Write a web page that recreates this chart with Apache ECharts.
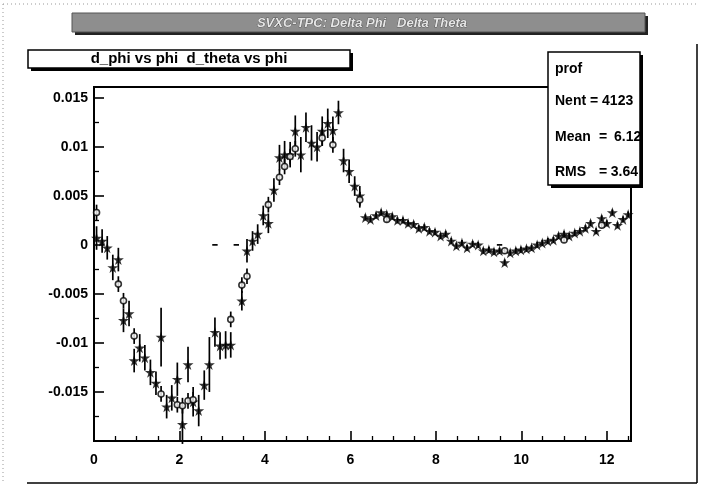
<!DOCTYPE html>
<html><head><meta charset="utf-8">
<script src="https://cdn.jsdelivr.net/npm/echarts@6/dist/echarts.min.js"></script>
<style>html,body{margin:0;padding:0;background:#fff}#c{width:701px;height:490px}</style>
</head><body><div id="c"></div>
<script>
// bin centres (phi), 100 bins over 0..4pi
const phiBins = [0.06,0.19,0.31,0.44,0.57,0.69,0.82,0.94,1.07,1.19,1.32,1.45,1.57,1.70,1.82,1.95,2.07,2.20,2.32,2.45,
 2.58,2.70,2.83,2.95,3.08,3.20,3.33,3.46,3.58,3.71,3.83,3.96,4.08,4.21,4.34,4.46,4.59,4.71,4.84,4.96,
 5.09,5.22,5.34,5.47,5.59,5.72,5.84,5.97,6.10,6.22,6.35,6.47,6.60,6.72,6.85,6.98,7.10,7.23,7.35,7.48,
 7.60,7.73,7.85,7.98,8.11,8.23,8.36,8.48,8.61,8.73,8.86,8.99,9.11,9.24,9.36,9.49,9.61,9.74,9.87,9.99,
 10.12,10.24,10.37,10.49,10.62,10.75,10.87,11.00,11.12,11.25,11.37,11.50,11.62,11.75,11.88,12.00,12.13,12.25,12.38,12.50];

// d_phi vs phi (filled stars)
const dPhi = [0.0007,0.0004,-0.0003,-0.0023,-0.0015,-0.0077,-0.0070,-0.0118,-0.0105,-0.0115,
 -0.0130,-0.0141,-0.0094,-0.0165,-0.0156,-0.0137,-0.0183,-0.0122,-0.0160,-0.0169,
 -0.0143,-0.0122,-0.0089,-0.0103,-0.0102,-0.0102,null,-0.0057,-0.0006,0.0004,
 0.0011,0.0030,0.0022,0.0056,0.0089,0.0092,0.0092,0.0116,0.0092,0.0120,
 0.0104,0.0100,0.0116,0.0124,0.0117,0.0135,0.0086,0.0075,0.0060,0.0050,
 0.0028,0.0026,0.0030,0.0033,0.0031,0.0029,0.0025,0.0025,0.0022,0.0021,
 0.0017,0.0018,0.0014,0.0013,0.0009,0.0011,0.0004,-0.0001,0.0002,-0.0003,
 0.0001,0.0000,-0.0006,-0.0005,-0.0007,-0.0006,-0.0018,-0.0008,-0.0006,-0.0005,
 -0.0004,-0.0003,0.0000,0.0002,0.0004,0.0005,0.0009,0.0011,0.0009,0.0012,
 0.0014,0.0017,0.0022,0.0014,0.0027,0.0022,0.0033,0.0020,0.0026,0.0031];
const dPhiErr = [0.0012,0.0012,0.0012,0.0013,0.0012,0.0012,0.0013,0.0012,0.0014,0.0013,
 0.0013,0.0012,0.0030,0.0012,0.0013,0.0017,0.0020,0.0018,0.0015,0.0016,
 0.0015,0.0028,0.0015,0.0014,0.0014,0.0013,0,0.0010,0.0012,0.0010,
 0.0010,0.0010,0.0010,0.0012,0.0013,0.0014,0.0013,0.0016,0.0018,0.0015,
 0.0018,0.0015,0.0015,0.0015,0.0014,0.0012,0.0012,0.0012,0.0010,0.0010,
 0.0003,0.0003,0.0003,0.0003,0.0003,0.0003,0.0003,0.0003,0.0003,0.0003,
 0.0003,0.0003,0.0003,0.0003,0.0003,0.0003,0.0003,0.0003,0.0003,0.0003,
 0.0003,0.0003,0.0003,0.0003,0.0003,0.0003,0.0003,0.0003,0.0003,0.0003,
 0.0003,0.0003,0.0003,0.0003,0.0003,0.0003,0.0003,0.0003,0.0003,0.0003,
 0.0003,0.0003,0.0003,0.0003,0.0003,0.0003,0.0003,0.0003,0.0003,0.0003];

// d_theta vs phi (open circles) - only the bins visible in the picture
const dThetaBins = [0.06,0.57,0.69,0.94,1.57,1.95,2.07,2.20,2.32,3.20,3.46,3.58,4.08,4.34,4.46,4.59,4.71,5.34,5.59,6.22,6.85,9.61,11.00,11.88];
const dTheta = [0.0033,-0.0040,-0.0057,-0.0093,-0.0152,-0.0163,-0.0164,-0.0159,-0.0158,-0.0076,-0.0041,-0.0032,0.0041,0.0069,0.0080,0.0090,0.0098,0.0109,0.0102,0.0046,0.0026,-0.0006,0.0005,0.0020];
const dThetaErr = [0.0008,0.0008,0.0008,0.0008,0.0008,0.0008,0.0008,0.0008,0.0008,0.0008,0.0008,0.0008,0.0008,0.0008,0.0008,0.0008,0.0008,0.0008,0.0008,0.0008,0.0003,0.0003,0.0003,0.0003];

// empty bins drawn as a flat bar at zero
const emptyBins = [2.83, 3.33, 9.49];
const halfBin = 0.063;

// axis ticks
const xTickLabels = [0, 2, 4, 6, 8, 10, 12];
const yTickLabels = [-0.015, -0.01, -0.005, 0, 0.005, 0.01, 0.015];

const phiPts = phiBins.map((x, i) => [x, dPhi[i], dPhiErr[i]]).filter(p => p[1] !== null);
const thetaPts = dThetaBins.map((x, i) => [x, dTheta[i], dThetaErr[i]]);
const emptyPts = emptyBins.map(x => [x, 0]);

const STAR = 'path://M50,0 L61,35 L98,35 L68,57 L79,91 L50,70 L21,91 L32,57 L2,35 L39,35 Z';
const FONT = '"Liberation Sans", Arial, Helvetica, sans-serif';

function errRender(params, api) {
  const x = api.value(0), y = api.value(1), e = api.value(2);
  const p1 = api.coord([x, y - e]), p2 = api.coord([x, y + e]);
  return { type: 'line', shape: { x1: p1[0], y1: p1[1], x2: p2[0], y2: p2[1] },
    style: { stroke: '#000', lineWidth: 1.7 } };
}
function emptyRender(params, api) {
  const x = api.value(0), y = api.value(1);
  const p1 = api.coord([x - halfBin, y]), p2 = api.coord([x + halfBin, y]);
  return { type: 'line', shape: { x1: p1[0], y1: p1[1], x2: p2[0], y2: p2[1] },
    style: { stroke: '#000', lineWidth: 1.7 } };
}
function near(list, v) { return list.some(t => Math.abs(t - v) < 1e-9); }
const txt = (x, y, s, align) => ({ type: 'text', x: x, y: y, silent: true, z: 12,
  style: { text: s, font: 'bold 14px ' + FONT, fill: '#000', verticalAlign: 'middle', align: align || 'left' } });

const chart = echarts.init(document.getElementById('c'), null, { renderer: 'canvas' });
chart.setOption({
  animation: false,
  backgroundColor: '#fff',
  grid: { left: 94, right: 70, top: 87, bottom: 49, show: true, borderColor: '#000', borderWidth: 2, outerBoundsMode: 'none' },
  xAxis: {
    type: 'value', min: 0, max: 12.566, interval: 2,
    axisLine: { show: true, onZero: false, lineStyle: { color: '#000', width: 2 } },
    axisTick: { show: true, inside: true, length: 10, lineStyle: { color: '#000', width: 1.6 } },
    minorTick: { show: true, splitNumber: 4, length: 5, lineStyle: { color: '#000', width: 1.3 } },
    splitLine: { show: false },
    axisLabel: { color: '#000', fontFamily: FONT, fontWeight: 'bold', fontSize: 14, margin: 12,
      formatter: v => near(xTickLabels, v) ? String(v) : '' }
  },
  yAxis: {
    type: 'value', min: -0.02, max: 0.0161, interval: 0.005,
    axisLine: { show: true, onZero: false, lineStyle: { color: '#000', width: 2 } },
    axisTick: { show: true, inside: true, length: 10, lineStyle: { color: '#000', width: 1.6 } },
    minorTick: { show: true, splitNumber: 2, length: 5, lineStyle: { color: '#000', width: 1.3 } },
    splitLine: { show: false },
    axisLabel: { color: '#000', fontFamily: FONT, fontWeight: 'bold', fontSize: 14, margin: 6,
      formatter: v => { const f = yTickLabels.find(t => Math.abs(t - v) < 1e-9); return f === undefined ? '' : String(f); } }
  },
  series: [
    { name: 'd_phi err', type: 'custom', renderItem: errRender, data: phiPts, encode: { x: 0, y: 1 }, z: 2 },
    { name: 'd_theta err', type: 'custom', renderItem: errRender, data: thetaPts, encode: { x: 0, y: 1 }, z: 2 },
    { name: 'empty', type: 'custom', renderItem: emptyRender, data: emptyPts, encode: { x: 0, y: 1 }, z: 2 },
    { name: 'd_phi vs phi', type: 'scatter', data: phiPts.map(p => [p[0], p[1]]), symbol: STAR, symbolSize: 11,
      itemStyle: { color: '#000' }, z: 3 },
    { name: 'd_theta vs phi', type: 'scatter', data: thetaPts.map(p => [p[0], p[1]]), symbol: 'circle', symbolSize: 6,
      itemStyle: { color: '#fff', borderColor: '#000', borderWidth: 1.6 }, z: 4 }
  ],
  graphic: [
    // canvas borders
    { type: 'line', shape: { x1: 3, y1: 4, x2: 697, y2: 4 }, style: { stroke: '#999', lineWidth: 1, lineDash: [1, 3] }, silent: true },
    { type: 'line', shape: { x1: 3, y1: 4, x2: 3, y2: 483 }, style: { stroke: '#999', lineWidth: 1, lineDash: [1, 3] }, silent: true },
    { type: 'line', shape: { x1: 697, y1: 44, x2: 697, y2: 483 }, style: { stroke: '#000', lineWidth: 1.5 }, silent: true },
    { type: 'line', shape: { x1: 27, y1: 483, x2: 697, y2: 483 }, style: { stroke: '#000', lineWidth: 1.5 }, silent: true },
    // title bar
    { type: 'rect', shape: { x: 75, y: 16, width: 573, height: 19 }, style: { fill: '#222' }, silent: true },
    { type: 'rect', shape: { x: 72, y: 13, width: 573, height: 19 }, style: { fill: '#8e8e8e', stroke: '#555', lineWidth: 1 }, silent: true },
    { type: 'text', x: 362, y: 23, style: { text: 'SVXC-TPC: Delta Phi   Delta Theta', font: 'italic bold 13px ' + FONT,
      fill: '#e6e6e6', stroke: '#333', lineWidth: 0.6, align: 'center', verticalAlign: 'middle' }, silent: true },
    // legend box
    { type: 'rect', shape: { x: 31, y: 53, width: 322, height: 18 }, style: { fill: '#000' }, silent: true },
    { type: 'rect', shape: { x: 28, y: 50, width: 322, height: 18 }, style: { fill: '#fff', stroke: '#000', lineWidth: 1.5 }, silent: true },
    { type: 'text', x: 189, y: 59, style: { text: 'd_phi vs phi  d_theta vs phi', font: 'bold 15px ' + FONT,
      fill: '#000', align: 'center', verticalAlign: 'middle' }, silent: true },
    // stats box
    { type: 'rect', shape: { x: 551, y: 55, width: 92, height: 133 }, style: { fill: '#000' }, silent: true, z: 10 },
    { type: 'rect', shape: { x: 548, y: 52, width: 92, height: 133 }, style: { fill: '#fff' }, silent: true, z: 11 },
    txt(555, 69, 'prof'),
    txt(555, 101, 'Nent = 4123'),
    txt(555, 137, 'Mean'), txt(603, 137, '=', 'center'), txt(614, 137, '6.125'),
    txt(555, 172, 'RMS'), txt(603, 172, '=', 'center'), txt(638, 172, '3.64', 'right'),
    // clip the overflowing value at the box edge
    { type: 'rect', shape: { x: 641, y: 120, width: 16, height: 34 }, style: { fill: '#fff' }, silent: true, z: 13 },
    { type: 'rect', shape: { x: 640, y: 55, width: 3, height: 133 }, style: { fill: '#000' }, silent: true, z: 14 },
    { type: 'rect', shape: { x: 548, y: 52, width: 92, height: 133 }, style: { fill: 'none', stroke: '#000', lineWidth: 1.5 }, silent: true, z: 15 }
  ]
});
</script>
</body></html>
